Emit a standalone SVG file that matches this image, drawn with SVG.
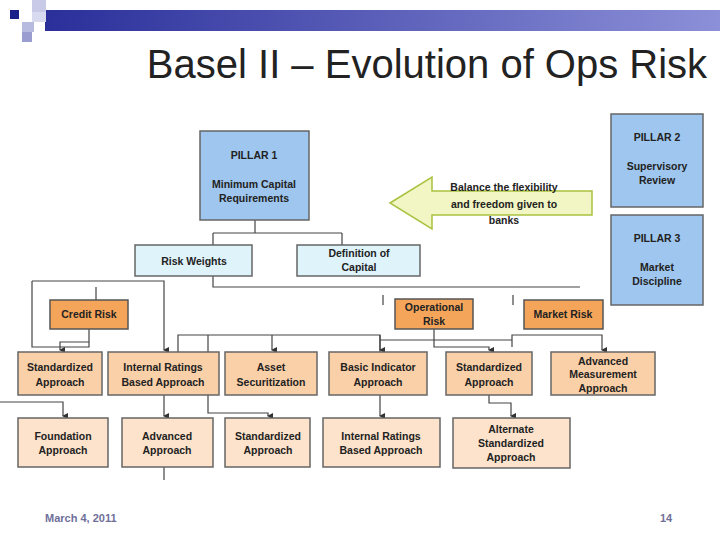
<svg xmlns="http://www.w3.org/2000/svg" width="720" height="539" viewBox="0 0 720 539">
<defs>
<linearGradient id="bar" x1="0" x2="1"><stop offset="0" stop-color="#2a2f9a"/><stop offset="1" stop-color="#8c90d8"/></linearGradient>
<marker id="ah" markerWidth="6" markerHeight="6" refX="3" refY="5" orient="auto" markerUnits="userSpaceOnUse"><path d="M0,0 L6,0 L3,6 Z" fill="#333"/></marker>
</defs>
<style>
text{font-family:"Liberation Sans",Arial,sans-serif;font-weight:bold;font-size:10.5px;fill:#222;text-anchor:middle}
.p{fill:#9ec6ee;stroke:#666;stroke-width:1.5}
.c{fill:#dff3fb;stroke:#666;stroke-width:1.5}
.o{fill:#f5a55a;stroke:#555;stroke-width:1.5}
.m{fill:#fad0a8;stroke:#666;stroke-width:1.5}
.l{fill:#fde3cb;stroke:#666;stroke-width:1.5}
#connectors path{fill:none;stroke:#444;stroke-width:1.2}
</style>
<rect width="720" height="539" fill="#fff"/>
<rect x="45" y="10" width="675" height="21" fill="url(#bar)"/>
<rect x="10" y="10" width="9" height="9" fill="#1a1f8a"/>
<rect x="32" y="0" width="14" height="12" fill="#c8cae8"/>
<rect x="32" y="12" width="14" height="10" fill="#d8daf0"/>
<rect x="22" y="22" width="12" height="10" fill="#b8bbe0"/>
<rect x="22" y="32" width="10" height="10" fill="#9a9dd0"/>
<text x="427" y="78" style="font-size:40px;font-weight:normal;fill:#222">Basel II – Evolution of Ops Risk</text>

<g id="connectors">
<path d="M255,220 V233 M213,233 H342 M213,233 V245 M342,233 V245"/>
<path d="M213,276 V287 H580 M96,287 V300"/>
<path d="M383,295 V305 M513,295 V305"/>
<path d="M32,281 H164 V350" marker-end="url(#ah)"/>
<path d="M32,281 V347 H89 V329"/>
<path d="M89,342 H60 V350" marker-end="url(#ah)"/>
<path d="M0,402 H63 V416" marker-end="url(#ah)"/>
<path d="M164,395 V416" marker-end="url(#ah)"/>
<path d="M164,418 V480"/>
<path d="M178,352 V335 H380 V416" marker-end="url(#ah)"/>
<path d="M380,335 V350" marker-end="url(#ah)"/>
<path d="M208,335 V413 H268 V416" marker-end="url(#ah)"/>
<path d="M272,335 V350" marker-end="url(#ah)"/>
<path d="M434,329 V347 H489 V350" marker-end="url(#ah)"/>
<path d="M380,340 H512 M512,347 V335 H602 V350" marker-end="url(#ah)"/>
<path d="M489,395 V403 H511 V416" marker-end="url(#ah)"/>
</g>

<g id="pillar1"><rect class="p" x="200" y="131" width="109" height="89"/><text x="254" y="159">PILLAR 1</text><text x="254" y="188">Minimum Capital</text><text x="254" y="202">Requirements</text></g>
<g id="pillar2"><rect class="p" x="611" y="114" width="92" height="93"/><text x="657" y="141">PILLAR 2</text><text x="657" y="170">Supervisory</text><text x="657" y="184">Review</text></g>
<g id="pillar3"><rect class="p" x="611" y="215" width="92" height="90"/><text x="657" y="242">PILLAR 3</text><text x="657" y="271">Market</text><text x="657" y="285">Discipline</text></g>
<g id="balance"><path d="M390,203 L432,177 L432,191 L592,191 L592,215 L432,215 L432,229 Z" fill="#f2f6c4" stroke="#a9c23f" stroke-width="1.5"/><text x="504" y="191">Balance the flexibility</text><text x="504" y="208">and freedom given to</text><text x="504" y="224">banks</text></g>
<g id="riskweights"><rect class="c" x="135" y="245" width="117" height="31"/><text x="194" y="265">Risk Weights</text></g>
<g id="defcapital"><rect class="c" x="297" y="245" width="123" height="31"/><text x="359" y="257">Definition of</text><text x="359" y="271">Capital</text></g>
<g id="creditrisk"><rect class="o" x="50" y="300" width="78" height="29"/><text x="89" y="318">Credit Risk</text></g>
<g id="oprisk"><rect class="o" x="395" y="299" width="78" height="30"/><text x="434" y="311">Operational</text><text x="434" y="325">Risk</text></g>
<g id="marketrisk"><rect class="o" x="524" y="300" width="79" height="29"/><text x="563" y="318">Market Risk</text></g>
<g id="std1"><rect class="m" x="18" y="352" width="84" height="43"/><text x="60" y="371">Standardized</text><text x="60" y="386">Approach</text></g>
<g id="irb1"><rect class="m" x="108" y="352" width="111" height="43"/><text x="163" y="371">Internal Ratings</text><text x="163" y="386">Based Approach</text></g>
<g id="assetsec"><rect class="m" x="225" y="352" width="92" height="43"/><text x="271" y="371">Asset</text><text x="271" y="386">Securitization</text></g>
<g id="basic"><rect class="m" x="329" y="352" width="98" height="43"/><text x="378" y="371">Basic Indicator</text><text x="378" y="386">Approach</text></g>
<g id="std2"><rect class="m" x="446" y="352" width="86" height="43"/><text x="489" y="371">Standardized</text><text x="489" y="386">Approach</text></g>
<g id="ama"><rect class="m" x="551" y="352" width="104" height="43"/><text x="603" y="365">Advanced</text><text x="603" y="378">Measurement</text><text x="603" y="392">Approach</text></g>
<g id="foundation"><rect class="l" x="18" y="418" width="90" height="49"/><text x="63" y="440">Foundation</text><text x="63" y="454">Approach</text></g>
<g id="advanced"><rect class="l" x="122" y="418" width="91" height="49"/><text x="167" y="440">Advanced</text><text x="167" y="454">Approach</text></g>
<g id="std3"><rect class="l" x="225" y="418" width="85" height="49"/><text x="268" y="440">Standardized</text><text x="268" y="454">Approach</text></g>
<g id="irb2"><rect class="l" x="323" y="418" width="117" height="49"/><text x="381" y="440">Internal Ratings</text><text x="381" y="454">Based Approach</text></g>
<g id="alternate"><rect class="l" x="453" y="418" width="117" height="50"/><text x="511" y="433">Alternate</text><text x="511" y="447">Standardized</text><text x="511" y="461">Approach</text></g>
<text x="45" y="522" style="text-anchor:start;font-size:11px;fill:#6f6f9a">March 4, 2011</text>
<text x="660" y="522" style="text-anchor:start;font-size:11px;fill:#6f6f9a">14</text>
</svg>
